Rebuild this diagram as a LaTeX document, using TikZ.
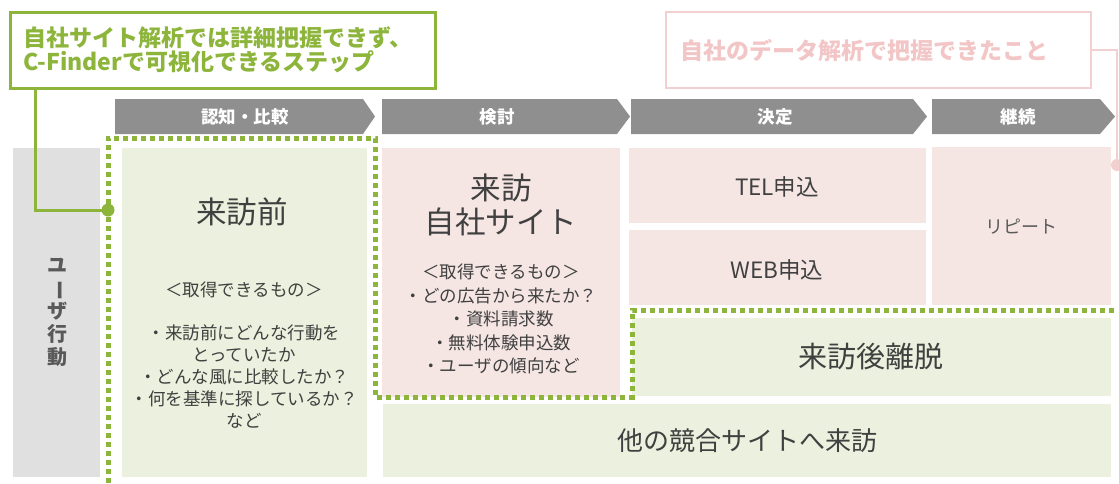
\documentclass[tikz,border=0pt]{standalone}
\usepackage{fontspec}
\setmainfont{Noto Sans CJK JP}
\definecolor{cgreen}{HTML}{8DB53C}
\definecolor{gfill}{HTML}{EBF1DE}
\definecolor{pfill}{HTML}{F5E6E4}
\definecolor{pline}{HTML}{F2D0D0}
\definecolor{ptext}{HTML}{F2C6C6}
\definecolor{hdr}{HTML}{8F8F8F}
\definecolor{ufill}{HTML}{E0E0E0}
\definecolor{tgray}{HTML}{404040}
\definecolor{ugray}{HTML}{595959}
\begin{document}
\begin{tikzpicture}[x=1pt,y=-1pt,
  box/.style={anchor=north west, inner sep=0pt, outer sep=0pt},
  pinkbox/.style={box, fill=pfill},
  greenbox/.style={box, fill=gfill},
  txt/.style={text=tgray, inner sep=0pt, align=center},
  big/.style={txt, font=\fontsize{30.5}{34}\selectfont},
  small/.style={txt, font=\fontsize{17.5}{22}\selectfont},
  hdrtxt/.style={text=white, inner sep=0pt, font=\fontsize{17.5}{20}\selectfont\bfseries},
  dotline/.style={draw=cgreen, line width=5pt, dash pattern=on 5pt off 4pt},
  gconn/.style={draw=cgreen, line width=3pt},
  pconn/.style={draw=pline, line width=2.5pt}]
\useasboundingbox (0,0) rectangle (1119,483);

% callouts
\node[draw=cgreen, line width=3pt, minimum width=425pt, minimum height=76pt, inner sep=0pt] (gcall) at (222.5,50) {};
\node[anchor=west, align=left, inner sep=0pt, text=cgreen, font=\fontsize{23}{24}\selectfont\bfseries] (gcallT) at (23,50) {自社サイト解析では詳細把握できず、\\C-Finderで可視化できるステップ};
\node[draw=pline, line width=2.5pt, minimum width=425pt, minimum height=76pt, inner sep=0pt] (pcall) at (878.5,50) {};
\node[inner sep=0pt, text=ptext, font=\fontsize{23}{24}\selectfont\bfseries] (pcallT) at (864,51) {自社のデータ解析で把握できたこと};

% header arrows
\fill[hdr] (115,99) -- (363,99) -- (375,116.5) -- (363,134) -- (115,134) -- cycle;
\node[hdrtxt] (h1) at (245,116.5) {認知・比較};
\fill[hdr] (382,99) -- (617,99) -- (630,116.5) -- (617,134) -- (382,134) -- cycle;
\node[hdrtxt] (h2) at (497,116.5) {検討};
\fill[hdr] (631,99) -- (913,99) -- (927,116.5) -- (913,134) -- (631,134) -- cycle;
\node[hdrtxt] (h3) at (775,116.5) {決定};
\fill[hdr] (932,99) -- (1100,99) -- (1115,116.5) -- (1100,134) -- (932,134) -- cycle;
\node[hdrtxt] (h4) at (1018,116.5) {継続};

% user column
\node[box, fill=ufill, minimum width=87pt, minimum height=329pt] (user) at (13,148) {};
\node[inner sep=0pt, align=center, text=ugray, font=\fontsize{20}{23}\selectfont\bfseries] (userT) at (57,312) {ユ\\\rotatebox[origin=c]{-90}{ー}\\ザ\\行\\動};

% boxes
\node[greenbox, minimum width=245pt, minimum height=329pt] (pre) at (122,148) {};
\node[big] (preT) at (242,212) {来訪前};
\node[small] (preS) at (244,290) {＜取得できるもの＞};
\node[small] (preL) at (244,377) {・来訪前にどんな行動を\\とっていたか\\・どんな風に比較したか？\\・何を基準に探しているか？\\など};

\node[pinkbox, minimum width=238pt, minimum height=249pt] (visit) at (382,148) {};
\node[big] (visitT) at (501,205) {来訪\\自社サイト};
\node[small, font=\fontsize{17.5}{23.5}\selectfont] (visitL) at (501,319) {＜取得できるもの＞\\・どの広告から来たか？\\・資料請求数\\・無料体験申込数\\・ユーザの傾向など};

\node[pinkbox, minimum width=297pt, minimum height=75pt] (tel) at (629,148) {};
\node[txt, font=\fontsize{22.5}{26}\selectfont] (telT) at (777,187) {TEL申込};
\node[pinkbox, minimum width=297pt, minimum height=75pt] (web) at (629,230) {};
\node[txt, font=\fontsize{22.5}{26}\selectfont] (webT) at (777,270) {WEB申込};
\node[pinkbox, minimum width=179pt, minimum height=158pt] (rep) at (932,147) {};
\node[txt, text=ugray, font=\fontsize{18}{22}\selectfont] (repT) at (1021,227) {リピート};

\node[greenbox, minimum width=479pt, minimum height=78pt] (leave) at (632,318) {};
\node[txt, font=\fontsize{29}{32}\selectfont] (leaveT) at (871,357) {来訪後離脱};
\node[greenbox, minimum width=728pt, minimum height=73pt] (comp) at (383,404) {};
\node[txt, font=\fontsize{26}{30}\selectfont] (compT) at (747,441) {他の競合サイトへ来訪};

% dotted frame
\draw[dotline] (108,483) -- (108,138) -- (375,138) -- (375,397) -- (632,397) -- (632,310) -- (1117,310);

% connectors
\coordinate (gdot) at (108,210);
\draw[gconn] ([xshift=27pt]gcall.south west) |- (gdot);
\fill[cgreen] (gdot) circle (6.5);
\coordinate (pdot) at (1117,165);
\draw[pconn] (pcall.east) -| (pdot);
\fill[pline] (pdot) circle (6);
\end{tikzpicture}
\end{document}
